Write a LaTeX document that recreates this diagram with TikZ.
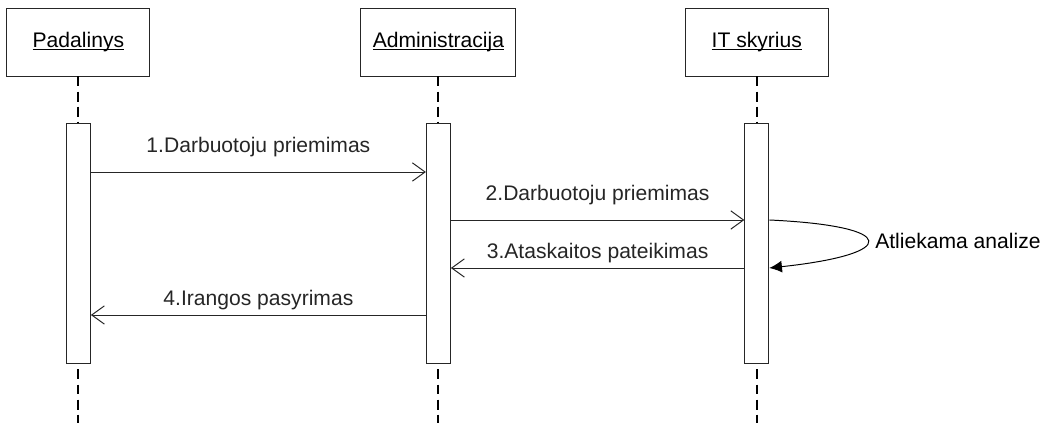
\documentclass[tikz,border=0pt]{standalone}
\usepackage{fontspec}
\setmainfont{Liberation Sans}
\usetikzlibrary{arrows.meta,positioning}
\newcommand{\objname}[1]{\setbox0\hbox{#1}\rlap{\rule[-2pt]{\wd0}{0.8pt}}\box0}

\begin{document}
\begin{tikzpicture}[>={Straight Barb[length=9pt,width=13pt]},
  font=\fontsize{15}{18}\selectfont,
  obj/.style={draw=black!85, line width=0.7pt, minimum width=3.575cm, minimum height=1.7cm},
  act/.style={draw=black!85, line width=0.7pt, fill=white, minimum width=0.6cm, minimum height=6cm, inner sep=0pt},
  life/.style={black, line width=1.4pt, dash pattern=on 7.1pt off 3.6pt},
  msg/.style={->, black!85, line width=0.7pt}]
  \useasboundingbox (0,0) rectangle (26.175,-10.575);
  \node[obj] (pad) at (1.96,-1.05) {\objname{Padalinys}};
  \node[obj, minimum width=3.875cm] (adm) at (10.96,-1.05) {\objname{Administracija}};
  \node[obj] (it) at (18.92,-1.05) {\objname{IT skyrius}};
  \node[act, below=1.175cm of pad] (pad-a) {};
  \node[act, below=1.175cm of adm] (adm-a) {};
  \node[act, below=1.175cm of it] (it-a) {};
  \coordinate (bot) at (0,-10.575);
  \foreach \who in {pad,adm,it}{
    \draw[life] (\who) -- (\who-a);
    \draw[life] ([yshift=-0.125cm]\who-a.south) -- (\who-a |- bot);
  }
  \coordinate (m1) at (0,-4.3);
  \coordinate (m2) at (0,-5.5);
  \coordinate (m3) at (0,-6.7);
  \coordinate (m4) at (0,-7.875);
  \draw[msg] (pad-a.east |- m1) -- (adm-a.west |- m1) node[midway, above=0.26cm] {1.Darbuotoju priemimas};
  \draw[msg] (adm-a.east |- m2) -- (it-a.west |- m2) node[midway, above=0.26cm] {2.Darbuotoju priemimas};
  \draw[msg] (it-a.west |- m3) -- (adm-a.east |- m3) node[midway, above] {3.Ataskaitos pateikimas};
  \draw[msg] (adm-a.west |- m4) -- (pad-a.east |- m4) node[midway, above] {4.Irangos pasyrimas};
  \draw[black, line width=0.7pt, -{Latex[length=9pt,width=8.5pt]}] (it-a.east |- m2)
    .. controls (22.5,-5.65) and (22.5,-6.35) .. (it-a.east |- m3)
    node[pos=0.5, right=0.07cm] {Atliekama analize};
\end{tikzpicture}
\end{document}
